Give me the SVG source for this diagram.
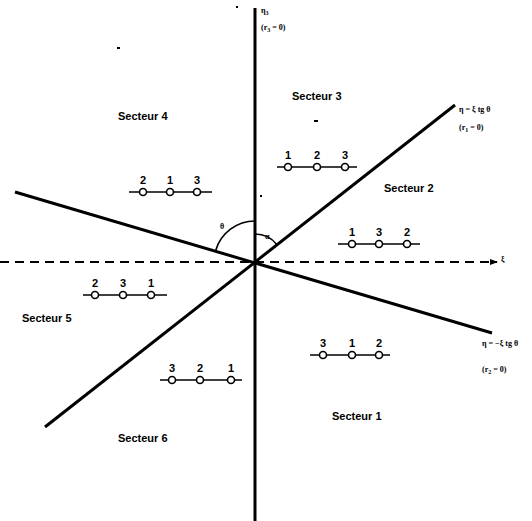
<svg xmlns="http://www.w3.org/2000/svg" width="532" height="521" viewBox="0 0 532 521">
<defs>
<style>
.ax{stroke:#000;stroke-width:3;fill:none}
.dash{stroke:#000;stroke-width:2;stroke-dasharray:9,6;fill:none}
.bar{stroke:#000;stroke-width:1.6;fill:none}
.c{fill:#fff;stroke:#000;stroke-width:1.6}
.n{font-family:"Liberation Sans",Arial,sans-serif;font-size:11px;font-weight:bold;text-anchor:middle;fill:#000}
.s{font-family:"Liberation Sans",Arial,sans-serif;font-size:11px;font-weight:bold;fill:#000}
.l{font-family:"Liberation Serif","Times New Roman",serif;font-size:8px;font-weight:bold;fill:#000}
.arc{stroke:#000;stroke-width:1.6;fill:none}
.sp{fill:#000}
</style>
<marker id="ah" markerWidth="8" markerHeight="6" refX="7" refY="3" orient="auto" markerUnits="userSpaceOnUse">
<path d="M0,0 L8,3 L0,6 z" fill="#000"/>
</marker>
</defs>
<rect width="532" height="521" fill="#fff"/>
<g id="connectors">
<line class="dash" x1="0" y1="262" x2="497" y2="262" marker-end="url(#ah)"/>
<line class="ax" x1="255" y1="8" x2="255" y2="521"/>
<line class="ax" x1="15" y1="192" x2="492" y2="333"/>
<line class="ax" x1="45" y1="427" x2="455" y2="105"/>
<path class="arc" d="M255,221 A41,41 0 0 0 215.7,250.4"/>
<path class="arc" d="M255,234 A28,28 0 0 1 277,244.7"/>
</g>
<g id="marks">
<rect class="sp" x="236" y="6" width="2" height="2"/>
<rect class="sp" x="117" y="47" width="3" height="2"/>
<rect class="sp" x="314" y="120" width="4" height="2"/>
<rect class="sp" x="260" y="195" width="2" height="2"/>
</g>
<g id="labels">
<text class="l" x="501" y="262" font-size="11">ξ</text>
<text class="l" x="261" y="13">η<tspan font-size="6" dy="2">3</tspan></text>
<text class="l" x="261" y="30">(r<tspan font-size="6" dy="2">3</tspan><tspan dy="-2"> = 0)</tspan></text>
<text class="l" x="459" y="112">η = ξ tg θ</text>
<text class="l" x="459" y="130">(r<tspan font-size="6" dy="2">1</tspan><tspan dy="-2"> = 0)</tspan></text>
<text class="l" x="482" y="346">η = −ξ tg θ</text>
<text class="l" x="482" y="372">(r<tspan font-size="6" dy="2">2</tspan><tspan dy="-2"> = 0)</tspan></text>
<text class="l" x="220" y="229" font-size="9">θ</text>
<text class="l" x="265" y="239" font-size="8">α</text>
</g>
<g id="sector3"><text class="s" x="292" y="100">Secteur 3</text></g>
<g id="sector4"><text class="s" x="118" y="120">Secteur 4</text></g>
<g id="sector2"><text class="s" x="384" y="192">Secteur 2</text></g>
<g id="sector5"><text class="s" x="22" y="322">Secteur 5</text></g>
<g id="sector1"><text class="s" x="332" y="420">Secteur 1</text></g>
<g id="sector6"><text class="s" x="118" y="442">Secteur 6</text></g>
<g id="order4">
<line class="bar" x1="129" y1="192" x2="212" y2="192"/>
<circle class="c" cx="143" cy="192" r="3.5"/><circle class="c" cx="170" cy="192" r="3.5"/><circle class="c" cx="197" cy="192" r="3.5"/>
<text class="n" x="143" y="184">2</text><text class="n" x="170" y="184">1</text><text class="n" x="197" y="184">3</text>
</g>
<g id="order3">
<line class="bar" x1="277" y1="167" x2="357" y2="167"/>
<circle class="c" cx="288" cy="167" r="3.5"/><circle class="c" cx="317" cy="167" r="3.5"/><circle class="c" cx="345" cy="167" r="3.5"/>
<text class="n" x="288" y="159">1</text><text class="n" x="317" y="159">2</text><text class="n" x="345" y="159">3</text>
</g>
<g id="order2">
<line class="bar" x1="338" y1="244" x2="420" y2="244"/>
<circle class="c" cx="352" cy="244" r="3.5"/><circle class="c" cx="379" cy="244" r="3.5"/><circle class="c" cx="407" cy="244" r="3.5"/>
<text class="n" x="352" y="236">1</text><text class="n" x="379" y="236">3</text><text class="n" x="407" y="236">2</text>
</g>
<g id="order5">
<line class="bar" x1="83" y1="295" x2="167" y2="295"/>
<circle class="c" cx="95" cy="295" r="3.5"/><circle class="c" cx="123" cy="295" r="3.5"/><circle class="c" cx="151" cy="295" r="3.5"/>
<text class="n" x="95" y="287">2</text><text class="n" x="123" y="287">3</text><text class="n" x="151" y="287">1</text>
</g>
<g id="order1">
<line class="bar" x1="310" y1="355" x2="390" y2="355"/>
<circle class="c" cx="323" cy="355" r="3.5"/><circle class="c" cx="352" cy="355" r="3.5"/><circle class="c" cx="379" cy="355" r="3.5"/>
<text class="n" x="323" y="347">3</text><text class="n" x="352" y="347">1</text><text class="n" x="379" y="347">2</text>
</g>
<g id="order6">
<line class="bar" x1="160" y1="380" x2="242" y2="380"/>
<circle class="c" cx="172" cy="380" r="3.5"/><circle class="c" cx="200" cy="380" r="3.5"/><circle class="c" cx="231" cy="380" r="3.5"/>
<text class="n" x="172" y="372">3</text><text class="n" x="200" y="372">2</text><text class="n" x="231" y="372">1</text>
</g>
</svg>
